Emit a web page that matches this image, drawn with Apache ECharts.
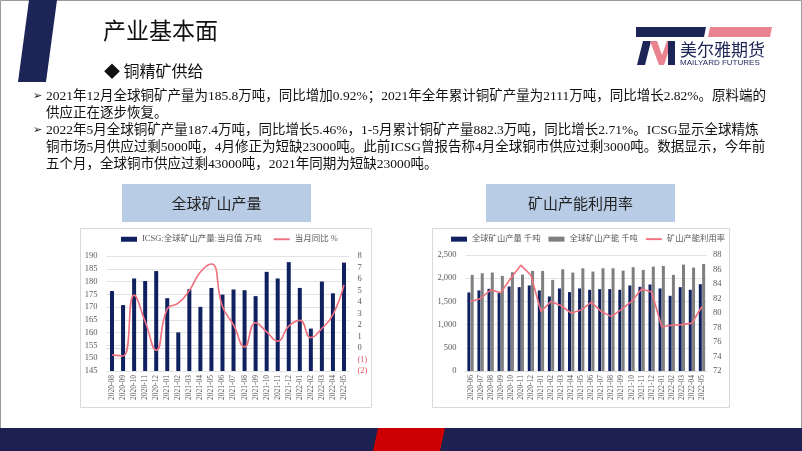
<!DOCTYPE html>
<html><head><meta charset="utf-8">
<script src="https://cdn.jsdelivr.net/npm/echarts@6/dist/echarts.min.js"></script>
<style>html,body{margin:0;padding:0;background:#fff}#c{width:802px;height:451px}</style>
</head><body><div id="c"></div>
<script>
// ---------- data ----------
const prodCats = ['2020-08','2020-09','2020-10','2020-11','2020-12','2021-01','2021-02','2021-03','2021-04','2021-05','2021-06','2021-07','2021-08','2021-09','2021-10','2021-11','2021-12','2022-01','2022-02','2022-03','2022-04','2022-05'];
const prodMonthly = [176.3,170.8,181.2,180.2,184.1,173.5,160.1,177.0,170.1,177.5,174.9,176.9,176.6,174.3,183.8,181.2,187.6,177.5,161.6,180.0,175.4,187.4];
const prodYoY = [-0.6,-0.7,4.6,2.3,-0.2,3.4,3.9,5.0,6.6,7.3,3.6,2.0,0.1,2.2,1.4,0.6,1.9,2.4,0.9,1.7,2.9,5.5];

const capCats = ['2020-06','2020-07','2020-08','2020-09','2020-10','2020-11','2020-12','2021-01','2021-02','2021-03','2021-04','2021-05','2021-06','2021-07','2021-08','2021-09','2021-10','2021-11','2021-12','2022-01','2022-02','2022-03','2022-04','2022-05'];
const mineOutput = [1693,1736,1771,1679,1821,1807,1843,1736,1607,1779,1700,1779,1750,1764,1764,1750,1843,1814,1864,1779,1621,1807,1750,1871];
const mineCapacity = [2071,2107,2121,2050,2129,2079,2157,2157,1964,2193,2121,2214,2143,2214,2214,2164,2236,2179,2250,2264,2071,2293,2229,2307];
const utilRate = [81.6,82.0,83.2,82.8,84.8,86.6,85.2,80.2,81.6,81.0,80.0,80.4,81.5,80.2,79.5,80.5,81.6,83.3,82.9,78.1,78.3,78.4,78.6,80.9];

const prodAxisL = [145,190,5];
const prodAxisR = [-2,8,1];
const capAxisL = [0,2500,500];
const capAxisR = [72,88,2];

const seriesNames = ['ICSG:全球矿山产量:当月值 万吨','当月同比 %','全球矿山产量 千吨','全球矿山产能 千吨','矿山产能利用率'];
const pageTitle = '产业基本面';
const subTitle = '◆ 铜精矿供给';
const chartTitles = ['全球矿山产量','矿山产能利用率'];
const logoTexts = ['美尔雅期货','MAILYARD FUTURES'];
const bulletLines = [
 ['➢','2021年12月全球铜矿产量为185.8万吨，同比增加0.92%；2021年全年累计铜矿产量为2111万吨，同比增长2.82%。原料端的'],
 ['','供应正在逐步恢复。'],
 ['➢','2022年5月全球铜矿产量187.4万吨，同比增长5.46%，1-5月累计铜矿产量882.3万吨，同比增长2.71%。ICSG显示全球精炼'],
 ['','铜市场5月供应过剩5000吨，4月修正为短缺23000吨。此前ICSG曾报告称4月全球铜市供应过剩3000吨。数据显示，今年前'],
 ['','五个月，全球铜市供应过剩43000吨，2021年同期为短缺23000吨。']
];

// ---------- style ----------
const NAVY = '#10215f';
const RED = '#f0707e';
const GREY = '#7f7f7f';
const TXT = '#595959';
const SERIF = "'Liberation Serif','Noto Sans CJK SC',serif";
const CJK = "'Liberation Serif','Noto Sans CJK SC',sans-serif";
const LINE_ICON = 'path://M0,0H20V2.4H0Z';

const chart = echarts.init(document.getElementById('c'), null, {renderer:'canvas'});

const graphics = [];
graphics.push({type:'rect', z:-5, shape:{x:0.5,y:0.5,width:801,height:450}, style:{fill:'none', stroke:'#9a9a9a', lineWidth:1}});
graphics.push({type:'polygon', shape:{points:[[29,0],[57,0],[46,82],[18,82]]}, style:{fill:'#1d2456'}});
graphics.push({type:'text', x:103, y:30, style:{text:pageTitle, font:"23px 'Noto Sans CJK SC'", fill:'#111', verticalAlign:'middle'}});
graphics.push({type:'text', x:104, y:71, style:{text:subTitle, font:"16px 'Noto Sans CJK SC'", fill:'#111', verticalAlign:'middle'}});
// logo
graphics.push({type:'polygon', shape:{points:[[636,27],[706,27],[704,37],[636,37]]}, style:{fill:'#1d2456'}});
graphics.push({type:'polygon', shape:{points:[[710,27],[772,27],[770,37],[708,37]]}, style:{fill:'#e8838f'}});
graphics.push({type:'polygon', shape:{points:[[637,65],[643,41],[651,41],[645,65]]}, style:{fill:'#1d2456'}});
graphics.push({type:'polygon', shape:{points:[[650,41],[657,41],[662,55],[667,41],[672,41],[664,65],[659,65]]}, style:{fill:'#e8838f'}});
graphics.push({type:'polygon', shape:{points:[[668,41],[675,41],[675,65],[668,65]]}, style:{fill:'#1d2456'}});
graphics.push({type:'text', x:680, y:50, style:{text:logoTexts[0], font:"17px 'Noto Sans CJK SC'", fill:'#1d2456', verticalAlign:'middle'}});
graphics.push({type:'text', x:680, y:63, style:{text:logoTexts[1], font:"8px 'Liberation Sans'", fill:'#1d2456', verticalAlign:'middle'}});
// bullets
bulletLines.forEach((ln,i)=>{
  const y = 96 + i*17;
  if (ln[0]) graphics.push({type:'text', x:33, y:y, style:{text:ln[0], font:"11px 'DejaVu Sans'", fill:'#111', verticalAlign:'middle'}});
  graphics.push({type:'text', x:46, y:y, style:{text:ln[1], font:"13.5px "+CJK, fill:'#111', verticalAlign:'middle'}});
});
// chart title boxes
[[122,311],[486,675]].forEach((b,i)=>{
  graphics.push({type:'rect', shape:{x:b[0],y:184,width:b[1]-b[0],height:38}, style:{fill:'#b9cce6'}});
  graphics.push({type:'text', x:(b[0]+b[1])/2, y:203, style:{text:chartTitles[i], font:"15px 'Noto Sans CJK SC'", fill:'#222', align:'center', verticalAlign:'middle'}});
});
// chart panels
graphics.push({type:'rect', z:-5, shape:{x:80.5,y:228.5,width:291,height:179}, style:{fill:'none', stroke:'#d9d9d9', lineWidth:1}});
graphics.push({type:'rect', z:-5, shape:{x:432.5,y:228.5,width:297,height:179}, style:{fill:'none', stroke:'#d9d9d9', lineWidth:1}});
// footer
graphics.push({type:'rect', shape:{x:0,y:428,width:802,height:23}, style:{fill:'#1d2151'}});
graphics.push({type:'polygon', shape:{points:[[378,428],[445,428],[440,451],[373,451]]}, style:{fill:'#cc0000'}});

const fmtThousand = v => String(v).replace(/\B(?=(\d{3})+(?!\d))/g, ',');

const option = {
  animation:false,
  backgroundColor:'#fff',
  graphic:{elements:graphics},
  legend:[
    {left:121, top:235, padding:0, itemWidth:16, itemHeight:5, itemGap:12,
     textStyle:{fontSize:8.5, color:TXT, fontFamily:CJK},
     data:[{name:seriesNames[0], icon:'rect'}, {name:seriesNames[1], icon:LINE_ICON}]},
    {left:451, top:235, padding:0, itemWidth:16, itemHeight:5, itemGap:8,
     textStyle:{fontSize:8.3, color:TXT, fontFamily:CJK},
     data:[{name:seriesNames[2], icon:'rect'}, {name:seriesNames[3], icon:'rect'}, {name:seriesNames[4], icon:LINE_ICON}]}
  ],
  grid:[
    {left:106.5, top:256, width:243, height:115},
    {left:465.5, top:255, width:241.5, height:116}
  ],
  xAxis:[
    {type:'category', gridIndex:0, data:prodCats,
     axisLine:{lineStyle:{color:'#d9d9d9'}}, axisTick:{show:false},
     axisLabel:{rotate:90, interval:0, fontSize:7.5, color:TXT, fontFamily:SERIF, margin:4}},
    {type:'category', gridIndex:1, data:capCats,
     axisLine:{lineStyle:{color:'#d9d9d9'}}, axisTick:{show:false},
     axisLabel:{rotate:90, interval:0, fontSize:7.5, color:TXT, fontFamily:SERIF, margin:4}}
  ],
  yAxis:[
    {type:'value', gridIndex:0, min:prodAxisL[0], max:prodAxisL[1], interval:prodAxisL[2],
     axisLine:{show:false}, axisTick:{show:false},
     splitLine:{lineStyle:{color:'#e3e3e3'}},
     axisLabel:{fontSize:8.5, color:TXT, fontFamily:SERIF, margin:9}},
    {type:'value', gridIndex:0, position:'right', min:prodAxisR[0], max:prodAxisR[1], interval:prodAxisR[2],
     axisLine:{show:false}, axisTick:{show:false}, splitLine:{show:false},
     axisLabel:{fontSize:8.5, color:TXT, fontFamily:SERIF, margin:8,
       formatter:v => v<0 ? '{n|('+(-v)+')}' : String(v),
       rich:{n:{color:'#ee5566', fontSize:8.5, fontFamily:SERIF}}}},
    {type:'value', gridIndex:1, min:capAxisL[0], max:capAxisL[1], interval:capAxisL[2],
     axisLine:{show:false}, axisTick:{show:false},
     splitLine:{lineStyle:{color:'#e3e3e3'}},
     axisLabel:{fontSize:8.5, color:TXT, fontFamily:SERIF, margin:9, formatter:fmtThousand}},
    {type:'value', gridIndex:1, position:'right', min:capAxisR[0], max:capAxisR[1], interval:capAxisR[2],
     axisLine:{show:false}, axisTick:{show:false}, splitLine:{show:false},
     axisLabel:{fontSize:8.5, color:TXT, fontFamily:SERIF, margin:6}}
  ],
  series:[
    {name:seriesNames[0], type:'bar', xAxisIndex:0, yAxisIndex:0, data:prodMonthly,
     barWidth:4, itemStyle:{color:NAVY}},
    {name:seriesNames[1], type:'line', xAxisIndex:0, yAxisIndex:1, data:prodYoY,
     smooth:0.5, symbol:'none', lineStyle:{color:RED, width:1.6}, itemStyle:{color:RED}},
    {name:seriesNames[2], type:'bar', xAxisIndex:1, yAxisIndex:2, data:mineOutput,
     barWidth:3, barGap:'10%', itemStyle:{color:NAVY}},
    {name:seriesNames[3], type:'bar', xAxisIndex:1, yAxisIndex:2, data:mineCapacity,
     barWidth:3, barGap:'10%', itemStyle:{color:GREY}},
    {name:seriesNames[4], type:'line', xAxisIndex:1, yAxisIndex:3, data:utilRate,
     symbol:'none', lineStyle:{color:RED, width:1.6}, itemStyle:{color:RED}}
  ]
};
chart.setOption(option);
</script></body></html>
